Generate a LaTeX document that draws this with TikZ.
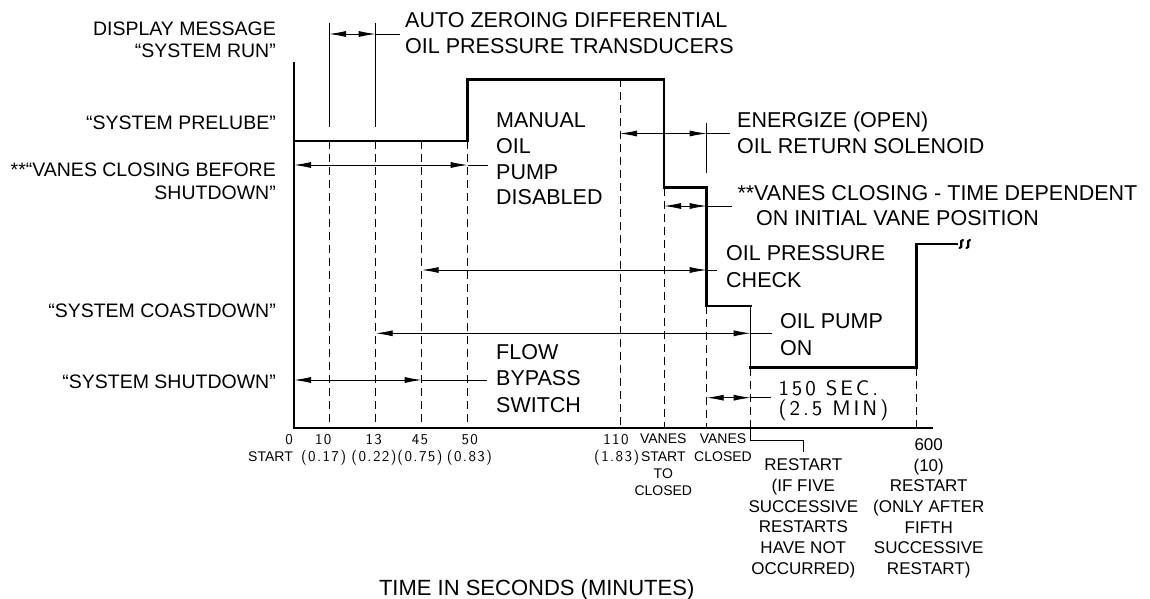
\documentclass[tikz,border=0pt]{standalone}
\usepackage{fontspec}
\setmainfont{Liberation Sans}
\newfontfamily\cadA[LetterSpace=9]{lmsans10-regular.otf}
\newfontfamily\cadB[LetterSpace=14]{lmsans10-regular.otf}
\usetikzlibrary{arrows.meta}
\newcommand\fbig{\fontsize{21.5}{25}\selectfont}
\newcommand\fleft{\fontsize{19.5}{22}\selectfont}
\newcommand\fsm{\fontsize{14}{17}\selectfont}
\newcommand\fmd{\fontsize{17}{20}\selectfont}
\newcommand\fttl{\fontsize{22}{25}\selectfont}
\newcommand\fcad{\cadA\fontsize{15}{17}\selectfont}
\newcommand\fcadb{\cadB\fontsize{21}{22}\selectfont}
\begin{document}
\begin{tikzpicture}[x=1pt,y=-1pt,
  >={Latex[length=17pt,width=6pt]},
  axis/.style={line width=1.2pt},
  sig/.style={line width=2.8pt,line join=miter,line cap=rect},
  thinl/.style={line width=0.9pt},
  guide/.style={line width=0.9pt,dash pattern=on 8pt off 5pt},
  dim/.style={line width=0.9pt,<->},
  brk/.style={line width=2.2pt,line cap=round},
  llbl/.style={inner sep=0pt,font=\fleft,anchor=base east},
  rlbl/.style={inner sep=0pt,font=\fbig,anchor=base west},
  tick/.style={inner sep=0pt,font=\fcad,anchor=base},
  small/.style={inner sep=0pt,font=\fsm,anchor=base},
  mid/.style={inner sep=0pt,font=\fmd,anchor=base}]
\useasboundingbox (0,0) rectangle (1150,599);
% key coordinates
\coordinate (o) at (294,428);
\coordinate (ytop) at (294,62);
\coordinate (xend) at (933,428);
% axes
\draw[axis] (ytop) -- (o) -- (xend);
% signal line
\draw[sig] (294,141) -- (467.7,141) -- (467.7,79.3) -- (664,79.3) -- (664,187.7)
  -- (706.7,187.7) -- (706.7,306) -- (750.7,306);
\draw[thinl] (750.7,306) -- (750.7,367.5);
\draw[sig] (750.7,367.5) -- (916.7,367.5) -- (916.7,244) -- (957,244);
% break mark
\draw[brk] (963,240) .. controls (958.5,240) and (964,248) .. (959.5,248);
\draw[brk] (970,240) .. controls (965.5,240) and (971,248) .. (966.5,248);
% guide lines
\draw[thinl] (329,23) -- (329,127);
\draw[thinl] (375.7,23) -- (375.7,127);
\draw[guide] (329,141) -- (329,428);
\draw[guide] (375.7,141) -- (375.7,428);
\draw[guide] (421.7,141) -- (421.7,428);
\draw[guide] (467.7,141) -- (467.7,428);
\draw[guide] (620,79.3) -- (620,428);
\draw[guide] (664,187.7) -- (664,428);
\draw[guide] (706.7,306) -- (706.7,428);
\draw[thinl] (706.7,123) -- (706.7,173);
\draw[guide] (750.7,367.5) -- (750.7,428);
\draw[guide] (916.7,367.5) -- (916.7,428);
\draw[thinl] (750.7,428) -- (750.7,440) -- (803.3,440) -- (803.3,452);
% dimension arrows
\coordinate (a1) at (329,34); \coordinate (b1) at (375.7,34); \coordinate (c1) at (400,34);
\draw[dim] (a1) -- (b1); \draw[thinl] (b1) -- (c1);
\coordinate (a2) at (294,165); \coordinate (b2) at (467.7,165); \coordinate (c2) at (488,165);
\draw[dim] (a2) -- (b2); \draw[thinl] (b2) -- (c2);
\coordinate (a3) at (620,133.5); \coordinate (b3) at (706.7,133.5); \coordinate (c3) at (730,133.5);
\draw[dim] (a3) -- (b3); \draw[thinl] (b3) -- (c3);
\coordinate (a4) at (664,206); \coordinate (b4) at (706.7,206); \coordinate (c4) at (731.7,206);
\draw[dim] (a4) -- (b4); \draw[thinl] (b4) -- (c4);
\coordinate (a5) at (421.7,270); \coordinate (b5) at (706.7,270); \coordinate (c5) at (716.7,270);
\draw[dim] (a5) -- (b5); \draw[thinl] (b5) -- (c5);
\coordinate (a6) at (375.7,333.3); \coordinate (b6) at (750.7,333.3); \coordinate (c6) at (771.7,333.3);
\draw[dim] (a6) -- (b6); \draw[thinl] (b6) -- (c6);
\coordinate (a7) at (294,380); \coordinate (b7) at (421.7,380); \coordinate (c7) at (487.3,380);
\draw[dim] (a7) -- (b7); \draw[thinl] (b7) -- (c7);
\coordinate (a8) at (706.7,397.7); \coordinate (b8) at (750.7,397.7); \coordinate (c8) at (770.7,397.7);
\draw[dim] (a8) -- (b8); \draw[thinl] (b8) -- (c8);
% left labels
\node[llbl] (dm1) at (276,35.7) {DISPLAY MESSAGE};
\node[llbl] (dm2) at (276,57.3) {“SYSTEM RUN”};
\node[llbl] (pre) at (276,129.3) {“SYSTEM PRELUBE”};
\node[llbl] (vc1) at (276,176) {**“VANES CLOSING BEFORE};
\node[llbl] (vc2) at (276,199) {SHUTDOWN”};
\node[llbl] (coast) at (276,317.3) {“SYSTEM COASTDOWN”};
\node[llbl] (shut) at (276,388.3) {“SYSTEM SHUTDOWN”};
% right labels
\node[rlbl] (az1) at (405,27.3) {AUTO ZEROING DIFFERENTIAL};
\node[rlbl] (az2) at (405,54) {OIL PRESSURE TRANSDUCERS};
\node[rlbl] (mo1) at (496,127.7) {MANUAL};
\node[rlbl] (mo2) at (496,153.4) {OIL};
\node[rlbl] (mo3) at (496,179.1) {PUMP};
\node[rlbl] (mo4) at (496,204.8) {DISABLED};
\node[rlbl] (en1) at (737,127.3) {ENERGIZE (OPEN)};
\node[rlbl] (en2) at (737,153.3) {OIL RETURN SOLENOID};
\node[rlbl] (vt1) at (737.3,200) {**VANES CLOSING - TIME DEPENDENT};
\node[rlbl] (vt2) at (756,225) {ON INITIAL VANE POSITION};
\node[rlbl] (op1) at (726,260) {OIL PRESSURE};
\node[rlbl] (op2) at (726,287) {CHECK};
\node[rlbl] (pu1) at (780,328.3) {OIL PUMP};
\node[rlbl] (pu2) at (780,355) {ON};
\node[rlbl] (fb1) at (496,359) {FLOW};
\node[rlbl] (fb2) at (496,385.7) {BYPASS};
\node[rlbl] (fb3) at (496,412.3) {SWITCH};
\node[inner sep=0pt,font=\fcadb,anchor=base west] (s1) at (778.3,395) {150 SEC.};
\node[inner sep=0pt,font=\fcadb,anchor=base west] (s2) at (778.3,415.7) {(2.5 MIN)};
% tick labels
\node[tick] (t0) at (289,444) {0};
\node[small,anchor=base east] (t0b) at (293,461.7) {START};
\node[tick] (t10) at (323.3,444) {10};
\node[tick] (t10b) at (323.6,461.7) {(0.17)};
\node[tick] (t13) at (373.7,444) {13};
\node[tick] (t13b) at (374,461.7) {(0.22)};
\node[tick] (t45) at (420,444) {45};
\node[tick] (t45b) at (420,461.7) {(0.75)};
\node[tick] (t50) at (469.7,444) {50};
\node[tick] (t50b) at (469.5,461.7) {(0.83)};
\node[tick] (t110) at (616,444) {110};
\node[tick] (t110b) at (616.7,461.7) {(1.83)};
\node[small] (vs1) at (663.3,443.3) {VANES};
\node[small] (vs2) at (663.3,461.7) {START};
\node[small] (vs3) at (663.3,478.5) {TO};
\node[small] (vs4) at (663.3,495.7) {CLOSED};
\node[small] (vcl1) at (723,443.3) {VANES};
\node[small] (vcl2) at (723,461.7) {CLOSED};
\node[mid] (r1) at (803.3,470) {RESTART};
\node[mid] (r2) at (803.3,491.7) {(IF FIVE};
\node[mid] (r3) at (803.3,512.7) {SUCCESSIVE};
\node[mid] (r4) at (803.3,532.7) {RESTARTS};
\node[mid] (r5) at (803.3,553.3) {HAVE NOT};
\node[mid] (r6) at (803.3,574) {OCCURRED)};
\node[mid] (q0) at (928.7,450.7) {600};
\node[mid] (q1) at (928.7,471) {(10)};
\node[mid] (q2) at (928.7,491.7) {RESTART};
\node[mid] (q3) at (928.7,512.7) {(ONLY AFTER};
\node[mid] (q4) at (928.7,533) {FIFTH};
\node[mid] (q5) at (928.7,553.3) {SUCCESSIVE};
\node[mid] (q6) at (928.7,574) {RESTART)};
\node[inner sep=0pt,font=\fttl,anchor=base] (title) at (536.7,595) {TIME IN SECONDS (MINUTES)};
\end{tikzpicture}
\end{document}
